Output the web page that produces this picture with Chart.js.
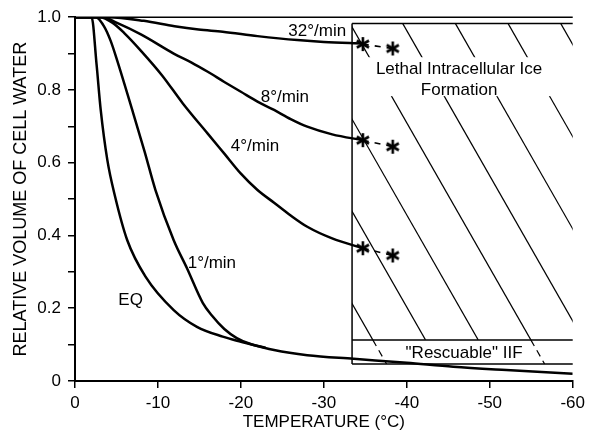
<!DOCTYPE html>
<html lang="en">
<head>
<meta charset="UTF-8">
<title>Relative volume of cell water</title>
<style>
  html, body { margin: 0; padding: 0; background: #fff; }
</style>
</head>
<body>
<canvas id="myChart" width="590" height="432"></canvas>
<script src="https://cdn.jsdelivr.net/npm/chart.js"></script>
<script>
  // curves: temperature (°C) and relative volume
  const eqTemp = [0, -2, -2.6, -3.1, -3.9, -4.8, -6.3, -8.5, -11.9, -14.7, -17.8, -20, -24, -28, -33.6, -40, -45.6, -52, -60];
  const eqVol  = [1.0, 1.0, 0.87, 0.745, 0.607, 0.51, 0.387, 0.287, 0.195, 0.149, 0.122, 0.108, 0.085, 0.071, 0.061, 0.05, 0.039, 0.03, 0.02];

  const r1Temp = [0, -2.5, -3.5, -4.3, -5.1, -6.9, -8.4, -9.7, -11.9, -13.5, -15.4, -16.5, -18, -19.5, -21, -23];
  const r1Vol  = [1.0, 1.0, 0.975, 0.935, 0.88, 0.745, 0.63, 0.525, 0.387, 0.31, 0.215, 0.18, 0.143, 0.118, 0.103, 0.091];

  const r4Temp = [0, -3, -4.5, -6, -7.9, -10.5, -13, -16, -18, -20, -22, -24, -26, -28, -31, -34.7];
  const r4Vol  = [1.0, 1.0, 0.985, 0.955, 0.909, 0.84, 0.763, 0.68, 0.625, 0.57, 0.525, 0.49, 0.455, 0.424, 0.392, 0.365];

  const r8Temp = [0, -3.3, -5, -8, -11.9, -14, -16, -18, -20, -22, -24, -26, -28, -31, -34.7];
  const r8Vol  = [1.0, 1.0, 0.985, 0.952, 0.90, 0.876, 0.85, 0.822, 0.795, 0.768, 0.745, 0.72, 0.699, 0.678, 0.662];

  const r32Temp = [0, -4, -8.3, -12, -14.9, -17.8, -22, -26.8, -30, -34.7];
  const r32Vol  = [1.0, 1.0, 0.99, 0.975, 0.966, 0.96, 0.948, 0.937, 0.932, 0.928];

  // the asterisks where ice forms
  const starTemp = [-34.7, -38.3];
  const star32 = [0.926, 0.914];
  const star8 = [0.662, 0.644];
  const star4 = [0.365, 0.345];

  const yTicks = [0, 0.2, 0.4, 0.6, 0.8, 1.0];
  const xTicks = [0, -10, -20, -30, -40, -50, -60];

  // hatched regions (data units)
  const boxLeft = -33.4, boxRight = -60, boxTop = 0.983, boxMid = 0.113, boxBottom = 0.047;
  const hatchAnchor = -35.9, hatchStep = 6.35;
  const gapTop = 0.89, gapBottom = 0.783;

  // in-plot labels
  const curveLabels = ['32°/min', '8°/min', '4°/min', '1°/min', 'EQ'];
  const labelTemp = [-29.2, -25.3, -21.7, -16.5, -6.7];
  const labelVol = [0.962, 0.779, 0.644, 0.323, 0.223];

  const family = '"Liberation Sans", Arial, Helvetica, sans-serif';

  // six-armed asterisk used as point marker
  const asterisk = document.createElement('canvas');
  asterisk.width = 16;
  asterisk.height = 16;
  (function () {
    const c = asterisk.getContext('2d');
    c.strokeStyle = '#000';
    c.lineWidth = 2.6;
    c.lineCap = 'butt';
    for (let i = 0; i < 3; i++) {
      const ang = Math.PI / 2 + i * Math.PI / 3;
      const dx = Math.cos(ang) * 7, dy = Math.sin(ang) * 7;
      c.beginPath();
      c.moveTo(8 - dx, 8 - dy);
      c.lineTo(8 + dx, 8 + dy);
      c.stroke();
    }
  })();

  function pts(xs, ys) {
    return xs.map((v, i) => ({ x: v, y: ys[i] }));
  }

  function curve(xs, ys) {
    return {
      data: pts(xs, ys),
      borderColor: '#000',
      borderWidth: 2.5,
      pointRadius: 0,
      cubicInterpolationMode: 'monotone',
      fill: false
    };
  }

  function stars(ys) {
    return {
      data: pts(starTemp, ys),
      borderColor: '#000',
      borderWidth: 1.6,
      borderDash: [6, 6],
      pointStyle: asterisk,
      pointRadius: 7,
      fill: false
    };
  }

  function line(ctx, x1, y1, x2, y2) {
    ctx.beginPath();
    ctx.moveTo(x1, y1);
    ctx.lineTo(x2, y2);
    ctx.stroke();
  }

  const annotate = {
    id: 'annotate',
    beforeDatasetsDraw(chart) {
      const { ctx, chartArea: a, scales: { x, y } } = chart;
      const L = x.getPixelForValue(boxLeft), R = x.getPixelForValue(boxRight);
      const T = y.getPixelForValue(boxTop), M = y.getPixelForValue(boxMid), B = y.getPixelForValue(boxBottom);
      const slope = 1.75;
      const x0 = x.getPixelForValue(hatchAnchor);
      const step = Math.abs(x.getPixelForValue(hatchAnchor - hatchStep) - x0);

      ctx.save();
      ctx.strokeStyle = '#000';
      ctx.lineWidth = 1.5;
      line(ctx, a.left, a.top, a.right, a.top);

      // diagonal hatching
      ctx.save();
      ctx.beginPath();
      ctx.rect(L, T, R - L, M - T);
      ctx.clip();
      ctx.lineWidth = 1.2;
      for (let k = -2; k < 10; k++) {
        const bx = x0 + k * step;
        line(ctx, bx, M, bx - (M - T) / slope, T);
      }
      ctx.restore();

      // blank band behind the text
      ctx.fillStyle = '#fff';
      const g1 = y.getPixelForValue(gapTop), g2 = y.getPixelForValue(gapBottom);
      ctx.fillRect(L + 1, g1, R - L, g2 - g1);

      // dashed bits in the rescuable strip
      ctx.save();
      ctx.lineWidth = 1.2;
      ctx.setLineDash([7, 5]);
      [0, 3].forEach(k => {
        const bx = x0 + k * step;
        line(ctx, bx, M, bx + (B - M) / slope, B);
      });
      ctx.restore();

      ctx.lineWidth = 1.5;
      line(ctx, L, T, R, T);
      line(ctx, L, T, L, B);
      line(ctx, L, M, R, M);
      line(ctx, L, B, R, B);
      ctx.restore();
    },
    afterDraw(chart) {
      const { ctx, scales: { x, y } } = chart;
      ctx.save();
      ctx.fillStyle = '#000';
      ctx.font = '17px ' + family;
      ctx.textAlign = 'center';
      ctx.textBaseline = 'middle';
      curveLabels.forEach((t, i) => {
        ctx.fillText(t, x.getPixelForValue(labelTemp[i]), y.getPixelForValue(labelVol[i]));
      });
      const cx = x.getPixelForValue(-46.3);
      ctx.fillText('Lethal Intracellular Ice', cx, y.getPixelForValue(0.856));
      ctx.fillText('Formation', cx, y.getPixelForValue(0.8));
      ctx.fillText('"Rescuable" IIF', x.getPixelForValue(-46.9), y.getPixelForValue(0.075));
      ctx.restore();
    }
  };

  const ctx = document.getElementById('myChart').getContext('2d');
  const myChart = new Chart(ctx, {
    type: 'line',
    data: {
      datasets: [
        curve(eqTemp, eqVol),
        curve(r1Temp, r1Vol),
        curve(r4Temp, r4Vol),
        curve(r8Temp, r8Vol),
        curve(r32Temp, r32Vol),
        stars(star32),
        stars(star8),
        stars(star4)
      ]
    },
    options: {
      responsive: false,
      animation: false,
      devicePixelRatio: 1,
      layout: { padding: { top: 17, right: 13, left: 0, bottom: 0 } },
      plugins: {
        legend: { display: false },
        tooltip: { enabled: false }
      },
      scales: {
        x: {
          type: 'linear',
          reverse: true,
          min: -60,
          max: 0,
          afterBuildTicks(s) { s.ticks = xTicks.map(v => ({ value: v })); },
          afterFit(s) { s.height = 51; },
          ticks: {
            color: '#000',
            font: { size: 17, family: family },
            padding: 5,
            maxRotation: 0,
            callback: v => String(v)
          },
          grid: { drawOnChartArea: false, drawTicks: true, tickLength: 7, color: '#000', lineWidth: 1.5 },
          border: { color: '#000', width: 2 },
          title: {
            display: true,
            text: 'TEMPERATURE (°C)',
            color: '#000',
            font: { size: 17, family: family },
            padding: { top: 0, bottom: -1 }
          }
        },
        y: {
          min: 0,
          max: 1,
          afterBuildTicks(s) {
            const t = [];
            for (let i = 0; i <= 10; i++) t.push({ value: i / 10 });
            s.ticks = t;
          },
          afterFit(s) { s.width = 75; },
          ticks: {
            color: '#000',
            font: { size: 17, family: family },
            padding: 7,
            callback: v => {
              const hit = yTicks.find(t => Math.abs(t - v) < 1e-6);
              if (hit === undefined) return '';
              return hit === 0 ? '0' : hit.toFixed(1);
            }
          },
          grid: { drawOnChartArea: false, drawTicks: true, tickLength: 7, color: '#000', lineWidth: 1.5 },
          border: { color: '#000', width: 2 },
          title: {
            display: true,
            text: 'RELATIVE VOLUME OF CELL WATER',
            color: '#000',
            font: { size: 18, family: family },
            padding: { top: 10, bottom: 0 }
          }
        }
      }
    },
    plugins: [annotate]
  });
</script>
</body>
</html>
